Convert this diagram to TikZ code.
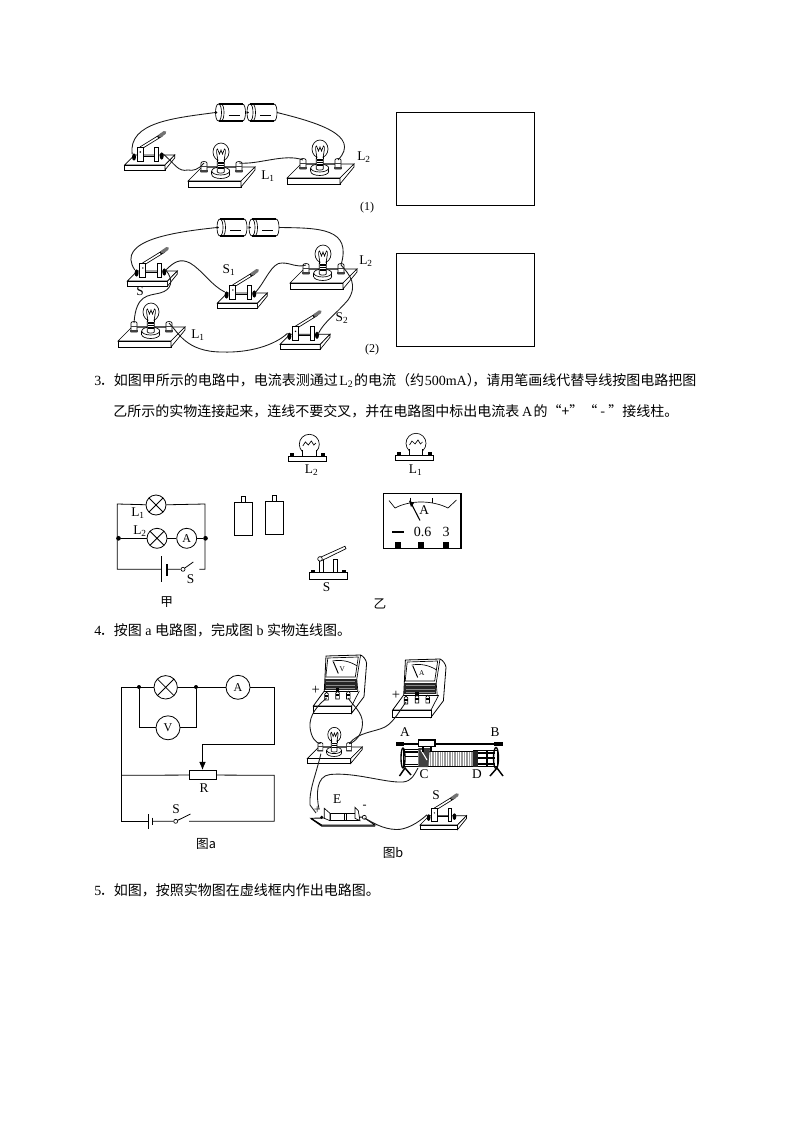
\documentclass[tikz,border=0pt]{standalone}
\usepackage{fontspec}
\setmainfont{Liberation Serif}
\newfontfamily\cmn{Noto Sans CJK SC}
\usetikzlibrary{arrows.meta,calc}
\tikzset{
  pt/.style={draw=black,line width=0.5pt},
  wire/.style={draw=black!90,line width=0.65pt},
  cwire/.style={draw=black,line width=0.6pt},
  lbl/.style={inner sep=0pt,font=\fontsize{10}{12}\selectfont},
  lblsm/.style={inner sep=0pt,font=\fontsize{9}{11}\selectfont},
  para/.style={inner sep=0pt,anchor=base west,font=\fontsize{10.5}{12}\selectfont},
  answerbox/.style={draw=black,line width=0.5pt,fill=white},
  meter/.style={circle,draw=black,line width=0.6pt,inner sep=0pt,fill=white,font=\fontsize{9}{11}\selectfont},
  xlamp/.style={circle,draw=black,line width=0.6pt,inner sep=0pt,path picture={
     \draw[line width=0.6pt] (path picture bounding box.north west)--(path picture bounding box.south east)
       (path picture bounding box.north east)--(path picture bounding box.south west);}},
  jdot/.style={circle,fill=black,inner sep=0pt,minimum size=3.5pt},
  swdot/.style={circle,draw=black,line width=0.5pt,inner sep=0pt,minimum size=3pt},
}
% large bulb on a board: name,x,y,scale
\newcommand{\bulbboard}[4]{%
\begin{scope}[shift={(#2,#3)},scale=#4]
 \draw[pt,fill=white] (0,0)--(14,-14)--(67,-14)--(53,0)--cycle;
 \draw[pt,fill=white] (0,0) rectangle (53,6);
 \draw[pt,fill=white] (53,0)--(67,-14)--(67,-11)--(53,6)--cycle;
 \draw[line width=1.1pt,black!65] (16,-14)--(51,-14);
 \draw[pt,fill=white] (32.7,-6.5) ellipse[x radius=9,y radius=4];
 \fill[white] (23.9,-10.5) rectangle (41.5,-6.5);
 \draw[pt] (23.7,-10)--(23.7,-6.5) (41.7,-10)--(41.7,-6.5);
 \draw[pt,fill=white] (32.7,-10) ellipse[x radius=9,y radius=4];
 \draw[pt,fill=white] (29.3,-20)--(29.3,-9) ..controls (30,-7.5) and (35.5,-7.5) .. (36.3,-9)--(36.3,-20);
 \draw[pt,fill=white] (33,-29) ellipse[x radius=8,y radius=9];
 \fill[white] (29.7,-22.5) rectangle (35.9,-19);
 \draw[pt] (29.3,-22)--(29.3,-19) (36.3,-22)--(36.3,-19);
 \draw[pt] (30,-20)..controls (29,-27) and (27.5,-32)..(29.5,-32)--(31.5,-27)--(33,-31)--(34.5,-27)--(36.5,-32)..controls (38.5,-32) and (37,-27)..(36,-20);
 \draw[line width=0.9pt] (30,-18)--(36,-18) (30,-15.5)--(36,-15.5) (30,-13)--(36,-13);
 \foreach \px in {16,51}{
   \draw[pt,fill=white] (\px-3,-9)--(\px-3,-18) arc[start angle=180,end angle=360,x radius=3,y radius=1.5]--(\px+3,-9)--cycle;
   \draw[line width=1.1pt,black!75] (\px-3.6,-10)--(\px+3.6,-10) (\px-3,-14.5)--(\px+3,-14.5);
 }
 \coordinate (#1-l) at (16,-18);
 \coordinate (#1-r) at (51,-18);
\end{scope}}
% knife switch on a board: name,x,y,scale
\newcommand{\knife}[4]{%
\begin{scope}[shift={(#2,#3)},scale=#4]
 \draw[pt,fill=white] (0,0)--(10,-10)--(50,-10)--(40.3,0)--cycle;
 \draw[pt,fill=white] (0,0) rectangle (40.3,5);
 \draw[pt,fill=white] (40.3,0)--(50,-10)--(50,-7)--(40.3,5)--cycle;
 \draw[pt] (18,-9)--(30,-9);
 \draw[pt,fill=white] (30,-18) rectangle (34,-4);
 \draw[line width=2.4pt,black,line cap=round] (16,-17)--(37,-30);
 \draw[line width=1.2pt,white] (16.6,-17.4)--(33,-27.5);
 \draw[line width=2.6pt,black!55,line cap=round] (35,-29)--(40,-32.5);
 \draw[pt,fill=white] (12.5,-18) rectangle (18.5,-4);
 \fill (15.5,-13) circle[radius=0.8];
 \fill (9.3,-8) ellipse[x radius=2,y radius=3.6];
 \fill (37,-9) ellipse[x radius=2,y radius=3.6];
 \coordinate (#1-l) at (7.5,-11);
 \coordinate (#1-r) at (38.5,-11);
\end{scope}}
% horizontal dry cell: name,x,y (upper left)
\newcommand{\hcell}[3]{%
\begin{scope}[shift={(#2,#3)}]
 \draw[pt,fill=white] (3,0)--(27,0)..controls (31,0) and (31,17)..(27,17)--(3,17)..controls (-1,17) and (-1,0)..(3,0)--cycle;
 \draw[line width=1.1pt] (3,0)--(27,0) (3,17)--(27,17);
 \draw[pt] (3,0)..controls (7,0) and (7,17)..(3,17);
 \draw[pt] (5.5,0)..controls (9.5,0) and (9.5,17)..(5.5,17);
 \draw[pt] (13,11)--(24,11);
 \fill (0.8,8.5) circle[radius=1.1];
 \coordinate (#1-l) at (0,8.5);
 \coordinate (#1-r) at (30,8.5);
\end{scope}}
% simple drawn bulb: name,x,y
\newcommand{\smallbulb}[3]{%
\begin{scope}[shift={(#2,#3)}]
 \draw[pt,fill=white] (0,0) rectangle (38.3,5.7);
 \draw[pt,fill=white] (21,-11.7) circle[radius=10];
 \fill[white] (14.7,-6) rectangle (27.3,-1);
 \draw[pt] (14.3,-6)--(14.3,0) (27.7,-6)--(27.7,0);
 \draw[pt] (14.5,-10)--(17,-14)--(20,-11)--(23,-15)--(25.5,-11)--(27.5,-13);
 \fill (1.5,-2.7) rectangle (5.5,0);
 \fill (32.5,-2.7) rectangle (36.5,0);
\end{scope}}
% bench meter: name,x,y,letter
\newcommand{\benchmeter}[4]{%
\begin{scope}[shift={(#2,#3)}]
 \draw[line width=0.6pt,fill=white] (12.7,-50)--(47.3,-51)..controls (50,-50) and (53,-46)..(53.3,-42.7)--(50.7,-9.3)--(38.3,7.3)--(38.3,0)--(0,0)--(11,-15)--cycle;
 \draw[pt] (47.3,-51)--(43.5,-27)--(44.5,-15);
 \draw[pt] (11,-15)--(45,-15);
 \draw[pt] (38.3,0)--(46,-15);
 \draw[pt] (14.5,-48)--(45,-49)--(42,-29)--(12.5,-29)--cycle;
 \fill[black!85] (11.7,-27.5) rectangle (43.3,-16);
 \draw[black!45,line width=0.35pt] (13,-25)--(42,-25) (13,-21)--(42,-21) (13,-18)--(42,-18);
 \draw[pt] (19,-45) ..controls (28,-46.5) and (36,-45) .. (44,-40);
 \draw[line width=0.7pt] (20,-44.3)--(25,-32.5);
 \node[inner sep=0pt,font=\fontsize{5.5}{6}\selectfont] (#1-t) at (29,-37) {#4};
 \fill[black] (22.5,-18) rectangle (26,-14);
 \draw[pt,fill=white] (0,0) rectangle (38.3,7.3);
 \foreach \px/\py in {13.3/-10,24.3/-11,35/-11}{
   \draw[pt,fill=white] (\px-1.8,\py+4)--(\px-1.8,\py-2) arc[start angle=180,end angle=360,radius=1.8]--(\px+1.8,\py+4)--cycle;
   \draw[line width=0.9pt] (\px-1.8,\py)--(\px+1.8,\py);
 }
 \coordinate (#1-p) at (13.3,-8);
 \coordinate (#1-n) at (35,-8);
\end{scope}}
\begin{document}
\begin{tikzpicture}[x=0.75pt,y=-0.75pt]
\useasboundingbox (0,0) rectangle (794,1123);
\fill[white] (0,0) rectangle (794,1123);

%% ---------- figure (1)
\hcell{c1}{215.5}{104}{}
\hcell{c2}{247}{104}{}
\knife{k1}{124.7}{165}{1}
\bulbboard{b1}{188}{181}{1}
\bulbboard{b2}{287}{178}{1}
\draw[wire] (c1-l)..controls (175,118) and (128,122)..(k1-l);
\draw[wire] (c2-r)..controls (315,122) and (362,135)..(b2-r);
\draw[wire] (k1-r)..controls (176,165) and (178,172)..(188,170)..controls (193,171) and (198,170)..(b1-l);
\draw[wire] (b1-r)..controls (258,165) and (285,153)..(b2-l);
\node[lbl] (t1) at (364,157) {L\textsubscript{2}};
\node[lbl] (t2) at (268,176) {L\textsubscript{1}};
\node[lblsm] (t3) at (367,208) {(1)};
\draw[answerbox] (396.5,112) rectangle (534.5,205.5);

%% ---------- figure (2)
\hcell{c3}{217}{219}{}
\hcell{c4}{249}{219}{}
\knife{k2}{127.3}{281}{1}
\knife{k3}{217.3}{303}{1}
\knife{k4}{280}{344.3}{1}
\bulbboard{b3}{290}{283}{1}
\bulbboard{b4}{118}{341}{1}
\draw[wire] (c3-l)..controls (175,232) and (115,240)..(k2-l);
\draw[wire] (c4-r)..controls (320,228) and (352,228)..(b3-r);
\draw[wire] (k2-r)..controls (174,262) and (180,258)..(190,263)..controls (202,270) and (212,286)..(k3-l);
\draw[wire] (k3-r)..controls (265,282) and (272,262)..(282,263)..controls (292,263) and (296,268)..(b3-l);
\draw[wire] (k2-r)..controls (174,280) and (172,290)..(160,293)..controls (148,296) and (136,294)..(b4-l);
\draw[wire] (b3-r)..controls (350,275) and (358,285)..(348,300)..controls (335,315) and (324,322)..(k4-r);
\draw[wire] (b4-r)..controls (178,332) and (186,352)..(222,352)..controls (250,353) and (275,345)..(k4-l);
\node[lbl] (t4) at (229,270) {S\textsubscript{1}};
\node[lbl] (t5) at (366,261) {L\textsubscript{2}};
\node[lbl] (t6) at (140,291) {S};
\node[lbl] (t7) at (198,335) {L\textsubscript{1}};
\node[lbl] (t8) at (342,318) {S\textsubscript{2}};
\node[lblsm] (t9) at (372,350) {(2)};
\draw[answerbox] (396.5,253) rectangle (534.5,346.5);

%% ---------- problem 3 text
\node[para] (q3a) at (94,385) {3\hspace{-0.1em}{\cmn ．如图甲所示的电路中，电流表测通过}\hspace{0.1em}L\textsubscript{2}\hspace{0.05em}{\cmn 的电流（约}\hspace{0.05em}500mA{\cmn ）\hspace{-0.6em}，请用笔画线代替导线按图电路把图}};
\node[para] (q3b) at (113,416) {{\cmn 乙所示的实物连接起来，连线不要交叉，并在电路图中标出电流表}\hspace{0.2em}A\hspace{0.1em}{\cmn 的“+”“ - ”接线柱。}};

%% ---------- figure 甲
\coordinate (jTL) at (117.3,504);
\coordinate (jTR) at (205,504);
\coordinate (jBL) at (117.3,569.3);
\coordinate (jBR) at (205,569.3);
\node[xlamp,minimum size=20pt*0.75] (jL1) at (156,505) {};
\node[xlamp,minimum size=20pt*0.75] (jL2) at (157,538.3) {};
\node[meter,minimum size=20pt*0.75] (jA) at (186.7,538.3) {A};
\node[jdot] (jDL) at (118.5,538.3) {};
\node[jdot] (jDR) at (205.5,538.3) {};
\coordinate (jB1) at (161.7,569.3);
\coordinate (jB2) at (167.3,569.3);
\node[swdot] (jSw) at (183,569.3) {};
\coordinate (jSe) at (199.3,569.3);
\coordinate (jSt) at (193.3,562);
\draw[cwire] (jL1)--(jTL)--(jBL)--(jB1);
\draw[cwire] (jL1)--(jTR)--(jBR)--(jSe);
\draw[cwire] (jDL)--(jL2)--(jA)--(jDR);
\draw[cwire] (jB2)--(jSw)--(jSt);
\draw[line width=0.6pt] (jB1)+(0,-13.3)--+(0,12.4);
\draw[line width=1.3pt] (jB2)+(0,-5)--+(0,6.4);
\node[lbl] (jt1) at (138,513) {L\textsubscript{1}};
\node[lbl] (jt2) at (140,531) {L\textsubscript{2}};
\node[lbl] (jt3) at (190.7,579) {S};
\node[lbl,font=\cmn\fontsize{9.5}{11}\selectfont] (jt4) at (166.7,602.5) {甲};

%% ---------- figure 乙
\smallbulb{yb2}{288.3}{456}
\smallbulb{yb1}{395}{455}
\node[lbl] (yt2) at (311.7,470.5) {L\textsubscript{2}};
\node[lbl] (yt1) at (415.7,470) {L\textsubscript{1}};
\draw[pt,fill=white] (234.3,502.7) rectangle (252.3,535);
\draw[pt,fill=white] (241,496.7) rectangle (245,502.7);
\draw[pt,fill=white] (265.3,501.7) rectangle (283.3,534);
\draw[pt,fill=white] (272,495.7) rectangle (276,501.7);
% switch
\begin{scope}[shift={(309,572.7)}]
 \draw[pt,fill=white] (0,0) rectangle (38.3,6.3);
 \fill (1.5,-2.5) rectangle (5.5,0);
 \fill (33,-2.5) rectangle (37,0);
 \draw[pt,fill=white] (10,-13.5) rectangle (14.3,0);
 \draw[pt,fill=white] (24,-13) rectangle (28.3,0);
 \draw[pt,fill=white] (10.5,-15)--(36,-26.5)--(37,-24)--(12.5,-12)--cycle;
 \draw[pt,fill=white] (11,-13.8) circle[radius=2.3];
\end{scope}
\node[lbl] (yt3) at (326.7,587) {S};
% panel meter
\draw[line width=0.8pt] (383.3,493.3) rectangle (461,548.3);
\draw[pt] (389,500.5)--(395,508)..controls (410,500) and (432,500)..(448,508)--(456.5,500);
\draw[pt] (410,497.5)--(410,503) (432,498)--(432,503);
\draw[line width=0.8pt] (410.5,502)--(420,520.5);
\fill (409,500.5)--(414,503)--(411,507)--cycle;
\node[lbl] (yt4) at (424.3,510) {A};
\draw[line width=1pt] (392,532)--(404,532);
\node[lbl,font=\fontsize{10.5}{12}\selectfont] (yt5) at (422.5,532) {0.6};
\node[lbl,font=\fontsize{10.5}{12}\selectfont] (yt6) at (446,532) {3};
\fill (395,541.5) rectangle (401,548);
\fill (418,541.5) rectangle (424,548);
\fill (443,541.5) rectangle (449,548);
\node[lbl,font=\cmn\fontsize{9.5}{11}\selectfont] (yt7) at (380,604) {乙};

%% ---------- problem 4 text
\node[para] (q4) at (94,635) {4\hspace{-0.1em}{\cmn ．按图}\hspace{0.25em}a\hspace{0.25em}{\cmn 电路图，完成图}\hspace{0.25em}b\hspace{0.25em}{\cmn 实物连线图。}};

%% ---------- figure a
\coordinate (aTL) at (121.7,687.3);
\coordinate (aTR) at (274.3,687.3);
\coordinate (aBL) at (121.7,821.3);
\coordinate (aBR) at (274.3,821.3);
\coordinate (aML) at (121.7,775.3);
\coordinate (aMR) at (274.3,775.3);
\coordinate (aC1) at (274.3,744.3);
\coordinate (aC2) at (202.5,744.3);
\node[xlamp,minimum size=23.4pt*0.75] (aL) at (165.7,687.3) {};
\node[meter,minimum size=24pt*0.75] (aA) at (238,687.3) {A};
\node[meter,minimum size=24pt*0.75] (aV) at (168,727.8) {V};
\node[jdot,minimum size=3pt] (aD1) at (139,687) {};
\node[jdot,minimum size=3pt] (aD2) at (196,687) {};
\node[draw=black,line width=0.6pt,minimum width=27.4pt*0.75,minimum height=9.3pt*0.75,inner sep=0pt] (aR) at (203,775) {};
\coordinate (aB1) at (148.3,821.3);
\coordinate (aB2) at (152.5,821.3);
\node[swdot,minimum size=3pt] (aSw) at (175.7,821.3) {};
\coordinate (aSe) at (189,821.3);
\coordinate (aSt) at (190.5,814);
\draw[cwire] (aL)--(aTL)--(aBL)--(aB1);
\draw[cwire] (aL)--(aA)--(aTR)--(aC1)--(aC2);
\draw[cwire,-{Latex[length=6pt,width=5pt]}] (aC2)--(aR.north-|aC2);
\draw[cwire] (aD1)--(aD1|-aV)--(aV)--(aD2|-aV)--(aD2);
\draw[cwire] (aML)--(aR)--(aMR)--(aBR)--(aSe);
\draw[cwire] (aB2)--(aSw)--(aSt);
\draw[line width=0.6pt] (aB1)+(0,-7.3)--+(0,7.4);
\draw[line width=0.6pt] (aB2)+(0,-3.6)--+(0,3.7);
\node[lbl] (at1) at (176,809.3) {S};
\node[lbl] (at2) at (204,787.7) {R};
\node[lbl,font=\cmn\fontsize{9.5}{11}\selectfont] (at3) at (206,843.5) {图a};

%% ---------- figure b
\benchmeter{mv}{313.3}{706}{V}
\benchmeter{ma}{392.7}{710}{A}
\bulbboard{b5}{307.3}{758.5}{0.82}
\node[lbl,font=\fontsize{11}{12}\selectfont] (bt1) at (315.7,690.5) {+};
\node[lbl,font=\fontsize{11}{12}\selectfont] (bt2) at (396,695) {+};
% rheostat
\draw[line width=1.1pt] (400,744)--(498,744);
\fill[black] (396,741.5) rectangle (404,746);
\fill[black] (494,741.5) rectangle (503,746);
\draw[pt,fill=white] (403,749.5) rectangle (419,766.7);
\draw[pt,fill=white] (473.3,750.5) rectangle (497,766.7);
\foreach \cx in {428.5,430.2,...,473}{\draw[black!40,line width=0.45pt] (\cx,751)--(\cx,766.7);}
\draw[line width=0.6pt] (428,751)--(473.5,751) (428,766.7)--(473.5,766.7);
\draw[line width=1.1pt] (405,752)--(418,752) (405,756.5)--(418,756.5) (405,764.5)--(418,764.5) (477,753)--(495,753) (477,758)--(495,758) (477,764)--(495,764);
\draw[line width=1pt] (403,758) ellipse[x radius=2,y radius=10];
\draw[line width=1pt] (496,758) ellipse[x radius=2.5,y radius=10.5];
\draw[line width=0.9pt] (487,751)--(487,766.7);
\fill[black!85] (473,751) rectangle (478,766.7);
\fill[black!75] (418.3,748)--(430,748)--(428,767)--(418.3,767)--cycle;
\draw[white,line width=0.8pt] (421,750)--(427,760);
\draw[line width=1.2pt,fill=white] (418.5,740) rectangle (435,746.5);
\draw[line width=0.8pt] (423,746)--(423,752) (431,746)--(431,752);
\draw[line width=1.1pt] (399.5,776)--(405,768)--(411,775);
\draw[line width=1.1pt] (490,776)--(497,768)--(503,776);
\coordinate (rC) at (418,768);
\node[lbl] (bt3) at (405,732.5) {A};
\node[lbl] (bt4) at (495,731.7) {B};
\node[lbl] (bt5) at (424,774.5) {C};
\node[lbl] (bt6) at (477,774.5) {D};
% battery on rail
\draw[line width=0.7pt,fill=white] (311,818.3)--(321.7,825)--(375,825)--(363,817)--cycle;
\draw[line width=0.9pt] (321.7,826)--(375,826) (311,818.5)--(321.7,826);
\draw[pt,fill=white] (330,813.3) rectangle (358.3,820);
\draw[pt] (344,813.3)--(344,820) (346,813.3)--(346,820);
\draw[pt,fill=white] (324.3,808.3)--(330,813.3)--(330,820.7)--(324.3,818.3)--cycle;
\draw[pt,fill=white] (355,807.3)--(358.3,810.7)--(360,820.7)--(355,818.3)--cycle;
\fill (321.7,817.3) circle[radius=1.7];
\draw[pt,fill=white] (364.3,817.3) circle[radius=2];
\coordinate (eP1) at (316,813);
\coordinate (eP2) at (319,809);
\coordinate (eN) at (364.5,818);
\node[lbl] (bt7) at (337.3,799) {E};
\node[lblsm] (bt8) at (317.3,810) {+};
\node[lblsm] (bt9) at (364.5,806.5) {-};
\knife{k5}{420}{825}{0.93}
\node[lbl] (bt10) at (436,795) {S};
% wires of figure b
\draw[wire] (mv-p)..controls (318,705) and (309,715)..(310,727)..controls (311,738) and (316,743)..(b5-l);
\draw[wire] (mv-n)..controls (352,705) and (363,712)..(362.5,724)..controls (362,735) and (355,742)..(b5-r);
\draw[wire] (ma-p)..controls (400,710) and (394,722)..(385,727)..controls (375,732) and (358,732)..(b5-r);
\draw[wire] ($(b5-l)+(0.5,10)$)..controls (315,778) and (309,790)..(310,805)--(eP1);
\draw[wire] (eP2)..controls (316,795) and (316,776)..(330,774.5)..controls (355,772) and (385,783)..(403,782)..controls (412,781) and (414,775)..(rC);
\draw[wire] (eN)..controls (372,822) and (382,829)..(396,829.5)..controls (406,830) and (418,823)..(k5-l);
\node[lbl,font=\cmn\fontsize{9.5}{11}\selectfont] (bt11) at (393,853) {图b};

%% ---------- problem 5 text
\node[para] (q5) at (94,895) {5\hspace{-0.1em}{\cmn ．如图，按照实物图在虚线框内作出电路图。}};
\end{tikzpicture}
\end{document}
